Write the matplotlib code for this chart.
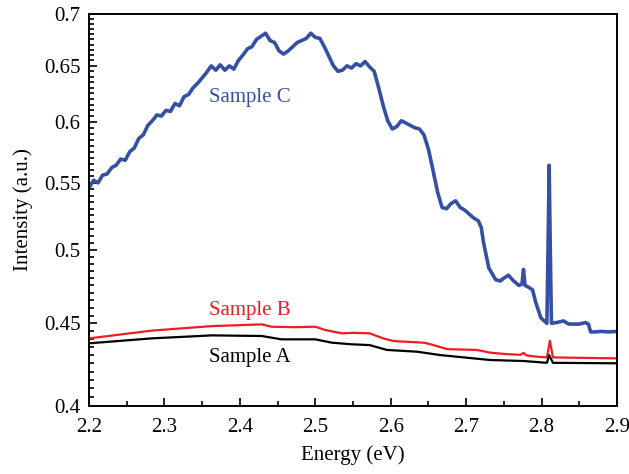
import numpy as np
import matplotlib
matplotlib.use("Agg")
import matplotlib.pyplot as plt
from matplotlib.ticker import FixedLocator, NullFormatter

# Sample C (blue), wiggles included
c_x = [2.200, 2.206, 2.212, 2.218, 2.224, 2.230, 2.236, 2.242, 2.248, 2.254, 2.260,
       2.266, 2.272, 2.278, 2.284, 2.290, 2.296, 2.302, 2.308, 2.314, 2.320,
       2.326, 2.332, 2.338, 2.344, 2.350, 2.356, 2.362, 2.368, 2.374, 2.380, 2.386,
       2.392, 2.398, 2.404, 2.410, 2.416, 2.422, 2.428, 2.434, 2.440, 2.446, 2.452,
       2.458, 2.464, 2.470, 2.476, 2.482, 2.488, 2.494, 2.500, 2.506, 2.512, 2.518,
       2.524, 2.530, 2.536, 2.542, 2.548, 2.554, 2.560, 2.566, 2.572, 2.578, 2.584,
       2.590, 2.596, 2.602, 2.608, 2.614, 2.620, 2.626, 2.632, 2.638, 2.644, 2.650,
       2.656, 2.662, 2.668, 2.674, 2.680, 2.686, 2.692, 2.698, 2.704, 2.710, 2.716,
       2.720, 2.723, 2.730, 2.739, 2.745, 2.750, 2.756, 2.763, 2.770, 2.774, 2.776,
       2.778, 2.782, 2.788, 2.792, 2.799, 2.807, 2.8085, 2.810, 2.8115, 2.813, 2.820,
       2.829, 2.836, 2.843, 2.850, 2.858, 2.862, 2.865, 2.872, 2.878, 2.890, 2.900]
c_y = [0.546, 0.552, 0.550, 0.556, 0.557, 0.562, 0.564, 0.569, 0.568, 0.575, 0.578,
       0.586, 0.589, 0.597, 0.601, 0.606, 0.605, 0.610, 0.609, 0.616, 0.614,
       0.622, 0.624, 0.630, 0.634, 0.639, 0.644, 0.650, 0.646, 0.651, 0.646, 0.650,
       0.647, 0.655, 0.660, 0.666, 0.668, 0.675, 0.678, 0.681, 0.674, 0.672, 0.664,
       0.661, 0.664, 0.668, 0.672, 0.674, 0.676, 0.681, 0.677, 0.676, 0.668, 0.659,
       0.650, 0.645, 0.646, 0.650, 0.648, 0.652, 0.650, 0.654, 0.649, 0.645, 0.630,
       0.614, 0.601, 0.594, 0.596, 0.601, 0.599, 0.597, 0.595, 0.594, 0.589, 0.577,
       0.560, 0.543, 0.531, 0.530, 0.534, 0.536, 0.531, 0.529, 0.526, 0.523, 0.521,
       0.516, 0.505, 0.487, 0.479, 0.478, 0.480, 0.482, 0.478, 0.475, 0.476, 0.486,
       0.475, 0.474, 0.472, 0.464, 0.4535, 0.450, 0.500, 0.564, 0.500, 0.450, 0.4505,
       0.4515, 0.4495, 0.4495, 0.4495, 0.4505, 0.4495, 0.4445, 0.4445, 0.4448, 0.4445, 0.4448]

# Sample B (red)
b_x = [2.200, 2.283, 2.363, 2.429, 2.442, 2.473, 2.500, 2.513, 2.535, 2.551, 2.572,
       2.590, 2.604, 2.644, 2.652, 2.675, 2.714, 2.732, 2.754, 2.772, 2.776, 2.780,
       2.794, 2.807, 2.811, 2.815, 2.900]
b_y = [0.4404, 0.4453, 0.4482, 0.4493, 0.4478, 0.4475, 0.4478, 0.4457, 0.4436, 0.4439,
       0.4436, 0.4404, 0.4387, 0.4377, 0.4368, 0.4337, 0.4332, 0.4315, 0.4306, 0.4302,
       0.4314, 0.4298, 0.4290, 0.4286, 0.4389, 0.4286, 0.4280]

# Sample A (black)
a_x = [2.200, 2.283, 2.363, 2.429, 2.455, 2.500, 2.522, 2.548, 2.572, 2.595, 2.635,
       2.666, 2.732, 2.776, 2.807, 2.810, 2.815, 2.900]
a_y = [0.4373, 0.4404, 0.4423, 0.4419, 0.4398, 0.4398, 0.4377, 0.4367, 0.4362, 0.4332,
       0.4321, 0.4300, 0.4270, 0.4264, 0.4253, 0.4300, 0.4253, 0.4250]

y_major = [0.4, 0.45, 0.5, 0.55, 0.6, 0.65, 0.7]
y_labels = ["0.4", "0.45", "0.5", "0.55", "0.6", "0.65", "0.7"]
x_major = [2.2, 2.3, 2.4, 2.5, 2.6, 2.7, 2.8, 2.9]

plt.rcParams['font.family'] = ['Liberation Serif', 'DejaVu Serif']

fig = plt.figure(figsize=(6.29, 4.74), dpi=100)
ax = fig.add_axes([0.1415, 0.144, 0.8395, 0.8265])

ax.plot(c_x, c_y, color='#3550a2', lw=2.6)
ax.plot(b_x, b_y, color='#ee1c24', lw=1.6)
ax.plot(a_x, a_y, color='black', lw=1.6)

ax.set_yscale('log')
ax.set_xlim(2.2, 2.9)
ax.set_ylim(0.4, 0.7)

ax.yaxis.set_major_locator(FixedLocator(y_major))
ax.set_yticklabels(y_labels)
minor = [round(0.4 + 0.005 * i, 3) for i in range(61)]
ax.yaxis.set_minor_locator(FixedLocator([m for m in minor if m not in y_major]))
ax.yaxis.set_minor_formatter(NullFormatter())
ax.set_xticks(x_major)
ax.set_xticklabels([f"{v:.1f}" for v in x_major])
ax.xaxis.set_minor_locator(FixedLocator([2.25, 2.35, 2.45, 2.55, 2.65, 2.75, 2.85]))

ax.tick_params(which='both', direction='in', top=False, right=False, labelsize=15, width=1.2)
ax.tick_params(which='major', length=6)
ax.tick_params(which='minor', length=3.5)
ax.tick_params(axis='x', which='major', pad=9)
ax.tick_params(axis='y', which='major', pad=6)
for s in ax.spines.values():
    s.set_linewidth(1.4)

ax.set_xlabel("Energy (eV)", fontsize=15, labelpad=6)
ax.set_ylabel("Intensity (a.u.)", fontsize=15, labelpad=8)

ax.text(2.413, 0.6217, "Sample C", color='#3550a2', fontsize=15, ha='center', va='center')
ax.text(2.413, 0.4580, "Sample B", color='#ee1c24', fontsize=15, ha='center', va='center')
ax.text(2.413, 0.4288, "Sample A", color='black', fontsize=15, ha='center', va='center')

fig.savefig("out.png", dpi=100)
